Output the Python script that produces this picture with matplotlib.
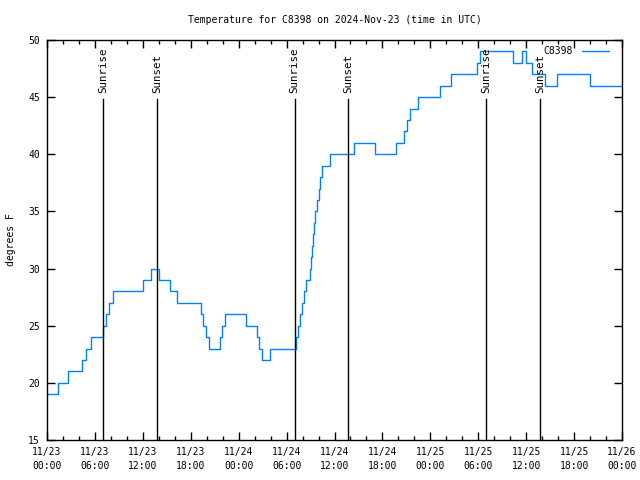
import matplotlib
matplotlib.use("Agg")
import matplotlib.pyplot as plt
from matplotlib.ticker import MultipleLocator, FixedLocator

# Hours since 2024-11-23 00:00 UTC where temperature changes, and the new value (deg F)
change_hours = [0.0, 1.4, 2.63, 4.38, 4.88, 5.5, 7.07, 7.39, 7.76, 8.26,
                12.02, 13.02, 14.02, 15.4, 16.28, 19.28, 19.53, 19.9, 20.29,
                21.66, 21.91, 22.29, 24.98, 26.3, 26.55, 26.92, 27.92,
                31.24, 31.49, 31.74, 31.99, 32.24, 32.49, 32.93, 33.06, 33.18,
                33.31, 33.43, 33.62, 33.81, 34.0, 34.18, 34.44, 35.44,
                38.38, 41.01, 43.7, 44.7, 45.08, 45.45, 46.46, 49.21, 50.59,
                53.9, 54.16, 58.29, 59.54, 59.98, 60.73, 62.3, 63.8, 68.0, 72.0]
temps = [19, 20, 21, 22, 23, 24, 25, 26, 27, 28,
         29, 30, 29, 28, 27, 26, 25, 24, 23,
         24, 25, 26, 25, 24, 23, 22, 23,
         24, 25, 26, 27, 28, 29, 30, 31, 32,
         33, 34, 35, 36, 37, 38, 39, 40,
         41, 40, 41, 42, 43, 44, 45, 46, 47,
         48, 49, 48, 49, 48, 47, 46, 47, 46, 46]

sun_hours = [7.0, 13.75, 31.0, 37.75, 55.0, 61.75]
sun_labels = ["Sunrise", "Sunset", "Sunrise", "Sunset", "Sunrise", "Sunset"]

tick_hours = [0, 6, 12, 18, 24, 30, 36, 42, 48, 54, 60, 66, 72]
tick_labels = ["11/23\n00:00", "11/23\n06:00", "11/23\n12:00", "11/23\n18:00",
               "11/24\n00:00", "11/24\n06:00", "11/24\n12:00", "11/24\n18:00",
               "11/25\n00:00", "11/25\n06:00", "11/25\n12:00", "11/25\n18:00",
               "11/26\n00:00"]

plt.rcParams['font.family'] = ['DejaVu Sans Mono']
plt.rcParams['font.size'] = 7

fig = plt.figure(figsize=(6.4, 4.8), dpi=100)
ax = fig.add_axes([47/640, 40/480, 575/640, 400/480])

ax.plot(change_hours, temps, drawstyle='steps-post', color='#0080ff', lw=1.0,
        label='C8398')

for h, lab in zip(sun_hours, sun_labels):
    ax.plot([h, h], [15, 44.8], color='black', lw=1.0)
    ax.text(h, 45.4, lab, rotation=90, ha='center', va='bottom', fontsize=7.8)

ax.set_xlim(0, 72)
ax.set_ylim(15, 50)
ax.xaxis.set_major_locator(FixedLocator(tick_hours))
ax.set_xticklabels(tick_labels, linespacing=1.5)
ax.xaxis.set_minor_locator(MultipleLocator(2))
ax.yaxis.set_major_locator(MultipleLocator(5))
ax.tick_params(which='both', direction='in', top=True, right=True, width=1)
ax.tick_params(which='major', length=6, pad=5)
ax.tick_params(which='minor', length=3)
for s in ax.spines.values():
    s.set_linewidth(1.0)

ax.set_ylabel('degrees F', labelpad=9)
ax.set_title('Temperature for C8398 on 2024-Nov-23 (time in UTC)', pad=12, fontsize=7)

leg = ax.legend(loc='upper right', bbox_to_anchor=(0.988, 1.0), frameon=False,
                markerfirst=False, handlelength=2.8, handletextpad=0.9,
                borderaxespad=0.25, fontsize=7)

fig.savefig('out.png', dpi=100)
